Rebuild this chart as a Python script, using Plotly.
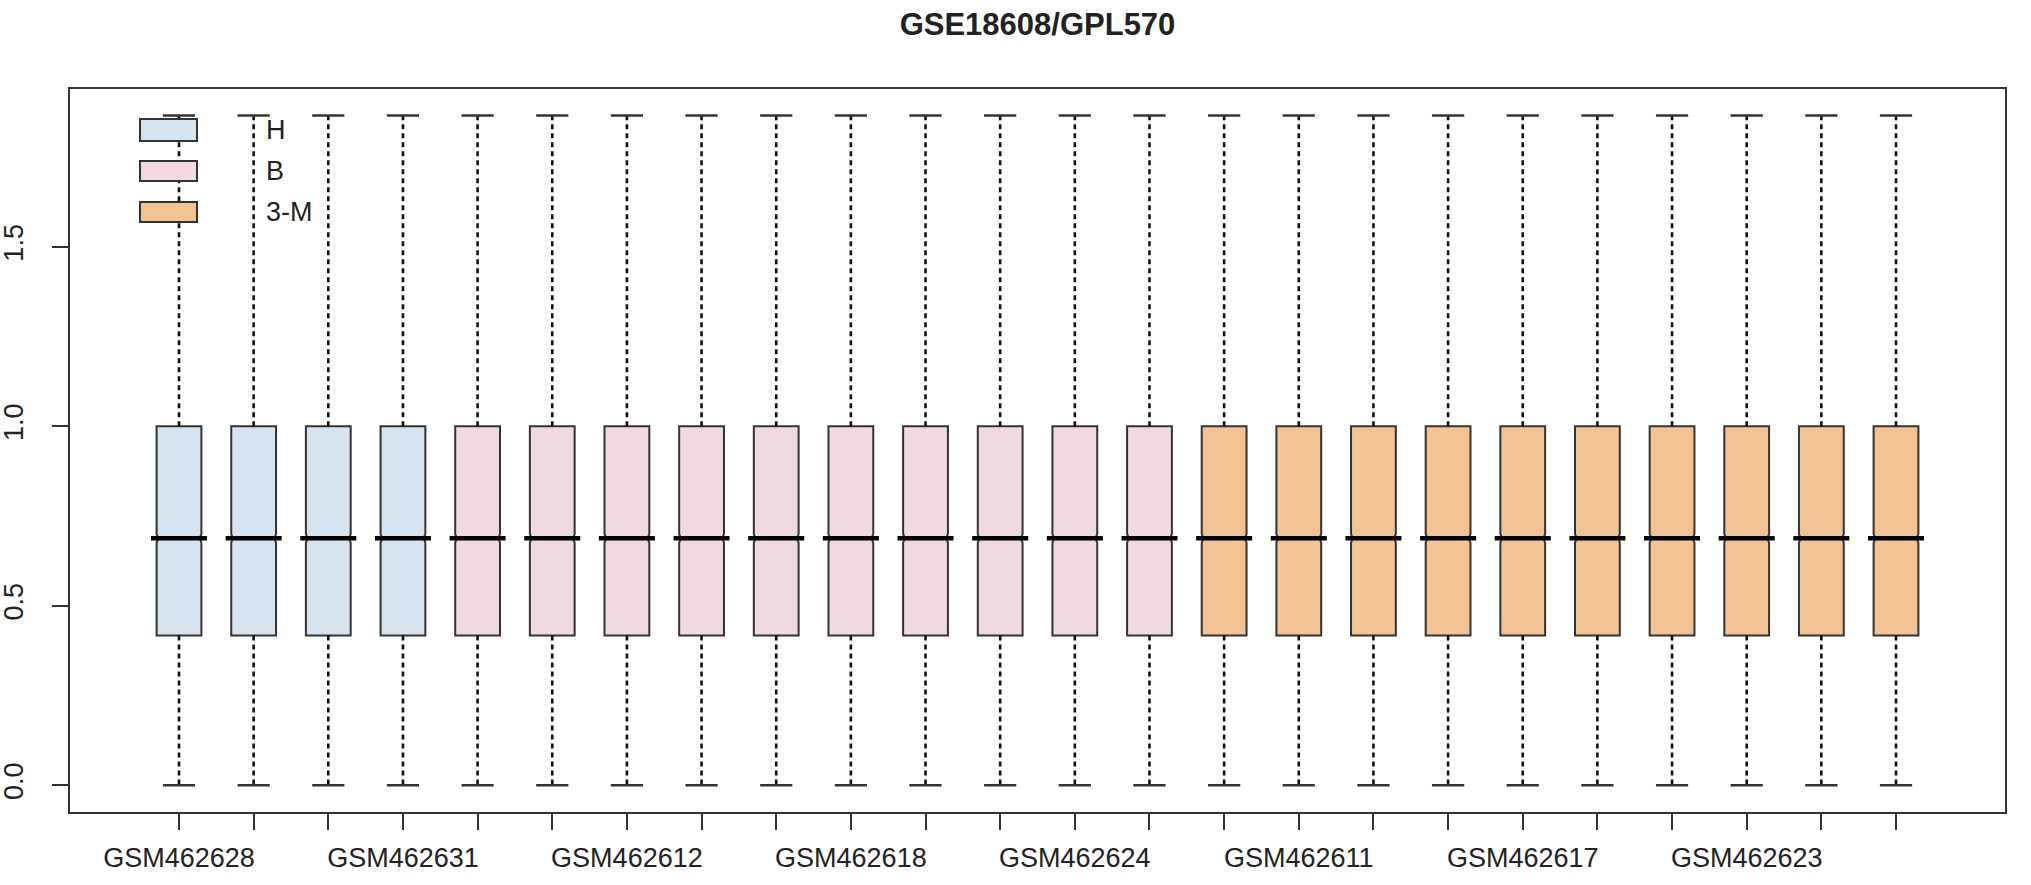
import plotly.graph_objects as go

# sample names per group
h_samples = ["GSM462628", "GSM462629", "GSM462630", "GSM462631"]
b_samples = ["GSM462608", "GSM462610", "GSM462612", "GSM462614", "GSM462616",
             "GSM462618", "GSM462620", "GSM462622", "GSM462624", "GSM462626"]
m_samples = ["GSM462609", "GSM462611", "GSM462613", "GSM462615", "GSM462617",
             "GSM462619", "GSM462621", "GSM462623", "GSM462625", "GSM462627"]
groups = ["H", "B", "3-M"]

# box statistics per sample, in plotting order (H, B, 3-M)
lower_whisker = [0.0, 0.0, 0.0, 0.0,
                 0.0, 0.0, 0.0, 0.0, 0.0, 0.0, 0.0, 0.0, 0.0, 0.0,
                 0.0, 0.0, 0.0, 0.0, 0.0, 0.0, 0.0, 0.0, 0.0, 0.0]
q1 = [0.417, 0.417, 0.417, 0.417,
      0.417, 0.417, 0.417, 0.417, 0.417, 0.417, 0.417, 0.417, 0.417, 0.417,
      0.417, 0.417, 0.417, 0.417, 0.417, 0.417, 0.417, 0.417, 0.417, 0.417]
median = [0.688, 0.688, 0.688, 0.688,
          0.688, 0.688, 0.688, 0.688, 0.688, 0.688, 0.688, 0.688, 0.688, 0.688,
          0.688, 0.688, 0.688, 0.688, 0.688, 0.688, 0.688, 0.688, 0.688, 0.688]
q3 = [1.0, 1.0, 1.0, 1.0,
      1.0, 1.0, 1.0, 1.0, 1.0, 1.0, 1.0, 1.0, 1.0, 1.0,
      1.0, 1.0, 1.0, 1.0, 1.0, 1.0, 1.0, 1.0, 1.0, 1.0]
upper_whisker = [1.866, 1.866, 1.866, 1.866,
                 1.866, 1.866, 1.866, 1.866, 1.866, 1.866, 1.866, 1.866, 1.866, 1.866,
                 1.866, 1.866, 1.866, 1.866, 1.866, 1.866, 1.866, 1.866, 1.866, 1.866]

# only some labels fit under the axis
shown_labels = ["GSM462628", "GSM462631", "GSM462612", "GSM462618",
                "GSM462624", "GSM462611", "GSM462617", "GSM462623"]

y_ticks = [0.0, 0.5, 1.0, 1.5]
y_tick_text = ["0.0", "0.5", "1.0", "1.5"]

colors = {"H": "#D6E4F0", "B": "#F1DADF", "3-M": "#F2C493"}
edge = "#333333"
font = "Liberation Sans, Arial, sans-serif"

samples = h_samples + b_samples + m_samples
group_of = ["H"] * len(h_samples) + ["B"] * len(b_samples) + ["3-M"] * len(m_samples)

fig = go.Figure()

# boxes (fences set to the box edges, whiskers drawn separately as dashed lines)
for g in groups:
    idx = [i for i, s in enumerate(group_of) if s == g]
    fig.add_trace(go.Box(
        x=[samples[i] for i in idx],
        q1=[q1[i] for i in idx],
        median=[median[i] for i in idx],
        q3=[q3[i] for i in idx],
        lowerfence=[q1[i] for i in idx],
        upperfence=[q3[i] for i in idx],
        notched=True,
        notchspan=[0.012 for i in idx],
        notchwidth=0.04,
        width=0.6,
        fillcolor=colors[g],
        line=dict(color=edge, width=2),
        whiskerwidth=0,
        boxpoints=False,
        hoverinfo="skip",
        showlegend=False,
        name=g,
    ))

# dashed whiskers
wx, wy = [], []
for i, s in enumerate(samples):
    wx += [s, s, None, s, s, None]
    wy += [q3[i], upper_whisker[i], None, q1[i], lower_whisker[i], None]
fig.add_trace(go.Scatter(
    x=wx, y=wy, mode="lines",
    line=dict(color="#111111", width=2.6, dash="5px,4px"),
    hoverinfo="skip", showlegend=False,
))

# whisker caps
fig.add_trace(go.Scatter(
    x=samples + samples, y=upper_whisker + lower_whisker, mode="markers",
    marker=dict(symbol="line-ew", size=23, line=dict(color=edge, width=2.4)),
    hoverinfo="skip", showlegend=False,
))

# thick median lines
fig.add_trace(go.Scatter(
    x=samples, y=median, mode="markers",
    marker=dict(symbol="line-ew", size=40, line=dict(color="#000000", width=4.5)),
    hoverinfo="skip", showlegend=False,
))

# legend drawn as filled rectangles + labels, like R's legend()
L, T, R, B = 70, 89, 2005, 812
W, H_ = R - L, B - T
shapes, annotations = [], []
legend_rows = [(119, 141), (161, 181), (202, 222)]
for g, (top, bot) in zip(groups, legend_rows):
    shapes.append(dict(
        type="rect", xref="paper", yref="paper", layer="above",
        x0=(140 - L) / W, x1=(197 - L) / W,
        y0=(B - bot) / H_, y1=(B - top) / H_,
        fillcolor=colors[g], line=dict(color=edge, width=2),
    ))
    annotations.append(dict(
        text=g, xref="paper", yref="paper",
        x=(264 - L) / W, y=(B - (top + bot) / 2) / H_,
        xanchor="left", yanchor="middle", showarrow=False,
        font=dict(family=font, size=27, color="#222222"),
    ))

tick_text = [s if s in shown_labels else "" for s in samples]

fig.update_layout(
    width=2031, height=885,
    paper_bgcolor="white", plot_bgcolor="white",
    margin=dict(l=L, r=2031 - R, t=T, b=885 - B, autoexpand=False),
    title=dict(
        text="<b>GSE18608/GPL570</b>", x=0.5, xanchor="center", xref="paper",
        y=1 - 24 / 885, yanchor="middle", yref="container",
        font=dict(family=font, size=31, color="#222222"),
    ),
    boxmode="overlay",
    shapes=shapes,
    annotations=annotations,
    font=dict(family=font, size=27, color="#222222"),
    hovermode=False,
)

fig.update_xaxes(
    type="category", categoryorder="array", categoryarray=samples,
    range=[-1.46, len(samples) - 1 + 1.46],
    tickmode="array", tickvals=samples, ticktext=tick_text,
    showline=True, linecolor=edge, linewidth=2, mirror=True,
    ticks="outside", ticklen=16, tickwidth=2, tickcolor=edge,
    tickangle=0, ticklabelstandoff=5, automargin=False,
    showgrid=False, zeroline=False,
    tickfont=dict(family=font, size=27, color="#222222"),
)
fig.update_yaxes(
    range=[-0.0746, 1.94],
    tickmode="array", tickvals=y_ticks, ticktext=y_tick_text,
    showline=True, linecolor=edge, linewidth=2, mirror=True,
    ticks="outside", ticklen=16, tickwidth=2, tickcolor=edge,
    tickangle=-90, ticklabelstandoff=18, automargin=False,
    showgrid=False, zeroline=False,
    tickfont=dict(family=font, size=27, color="#222222"),
)

# drop the page's default body margin (and scrollbars) so the figure sits at the window origin
fig.write_html(
    "out.html",
    config={"displayModeBar": False, "staticPlot": True},
    post_script="document.body.style.margin='0';document.body.style.overflow='hidden';",
)
